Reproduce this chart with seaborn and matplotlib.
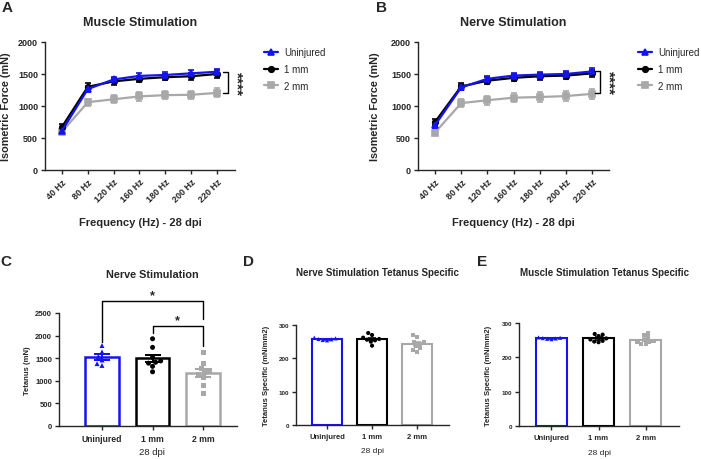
import pandas as pd
import numpy as np
import matplotlib
matplotlib.use("Agg")
import matplotlib.pyplot as plt
import seaborn as sns

sns.set_theme(style="ticks")
plt.rcParams['font.family'] = ['Liberation Sans', 'DejaVu Sans']

W, H = 701, 460

freqs = ['40 Hz', '80 Hz', '120 Hz', '160 Hz', '180 Hz', '200 Hz', '220 Hz']
groups = ['Uninjured', '1 mm', '2 mm']
colors = {'Uninjured': '#1414F0', '1 mm': '#000000', '2 mm': '#A8A8A8'}
markers = {'Uninjured': '^', '1 mm': 'o', '2 mm': 's'}

# panel A - muscle stimulation (mean, sem)
muscle_uninjured = [615, 1265, 1415, 1470, 1485, 1510, 1535]
muscle_uninjured_sem = [40, 45, 45, 45, 45, 45, 50]
muscle_1mm = [675, 1300, 1385, 1425, 1450, 1465, 1500]
muscle_1mm_sem = [40, 55, 50, 50, 50, 55, 60]
muscle_2mm = [600, 1060, 1105, 1150, 1170, 1175, 1205]
muscle_2mm_sem = [35, 55, 65, 65, 65, 65, 70]

# panel B - nerve stimulation
nerve_uninjured = [700, 1290, 1425, 1475, 1490, 1500, 1540]
nerve_uninjured_sem = [45, 45, 45, 45, 45, 50, 50]
nerve_1mm = [750, 1305, 1395, 1440, 1465, 1475, 1510]
nerve_1mm_sem = [45, 55, 55, 55, 55, 55, 55]
nerve_2mm = [585, 1045, 1090, 1130, 1140, 1155, 1190]
nerve_2mm_sem = [40, 60, 70, 75, 75, 75, 75]

# panel C - tetanus (mN)
tet_uninjured = [1780, 1640, 1540, 1460, 1380, 1340]
tet_1mm = [1930, 1740, 1520, 1440, 1410, 1390, 1320, 1200]
tet_2mm = [1630, 1390, 1275, 1225, 1185, 1130, 1080, 890, 710]

# panel D - nerve tetanus specific
nts_uninjured = [262, 258, 260, 255, 254, 257]
nts_1mm = [276, 270, 262, 258, 256, 254, 250, 238]
nts_2mm = [270, 265, 250, 248, 244, 238, 230, 225, 220]

# panel E - muscle tetanus specific
mts_uninjured = [258, 256, 255, 254, 253, 257]
mts_1mm = [268, 266, 262, 255, 252, 248, 246, 244]
mts_2mm = [272, 264, 258, 250, 248, 246, 244, 240, 238]


def box(l, r, t, b):
    return [l / W, 1 - b / H, (r - l) / W, (b - t) / H]


def ftext(x, y, s, **kw):
    fig.text(x / W, 1 - y / H, s, ha='center', va='center', **kw)


def bold_ticks(ax):
    for lab in ax.get_xticklabels() + ax.get_yticklabels():
        lab.set_fontweight('bold')


def line_panel(ax, means, sems, xlim, leg_x):
    df = pd.DataFrame({
        'freq': freqs * 3,
        'force': means['Uninjured'] + means['1 mm'] + means['2 mm'],
        'group': [g for g in groups for _ in freqs],
    })
    order = groups[::-1]
    for g in order:
        ax.errorbar(range(len(freqs)), means[g], yerr=sems[g], fmt='none',
                    ecolor=colors[g], elinewidth=1.2, capsize=2.2, capthick=1.2, zorder=2)
    sns.pointplot(data=df, x='freq', y='force', hue='group', hue_order=order,
                  palette=colors, markers=[markers[g] for g in order],
                  errorbar=None, markersize=4, linewidth=1.6, ax=ax)
    handles, labels = ax.get_legend_handles_labels()
    ax.legend(handles[::-1], labels[::-1], frameon=False, loc='upper left',
              bbox_to_anchor=(leg_x, 0.96), borderpad=0, borderaxespad=0,
              fontsize=7, handlelength=1.5, handletextpad=0.6, labelspacing=0.7)
    ax.set_xlim(*xlim)
    ax.set_ylim(0, 2000)
    ax.set_yticks([0, 500, 1000, 1500, 2000])
    ax.set_xticks(range(len(freqs)))
    ax.set_xticklabels(freqs, rotation=45, ha='right', rotation_mode='anchor')
    ax.tick_params(labelsize=6.5, length=3, width=1, pad=2)
    ax.set_xlabel('Frequency (Hz) - 28 dpi', fontsize=8, fontweight='bold')
    ax.set_ylabel('Isometric Force (mN)', fontsize=7.8, fontweight='bold')
    ax.xaxis.set_label_coords(0.5, -0.37)
    bold_ticks(ax)
    sns.despine(ax=ax)
    for sp in ax.spines.values():
        sp.set_linewidth(1)


def bar_panel(ax, vals, ylim, yticks, ylabel, msize, lw, cap, yfs, xfs, labfs):
    df = pd.DataFrame({
        'group': [g for g in groups for _ in vals[g]],
        'v': vals['Uninjured'] + vals['1 mm'] + vals['2 mm'],
    })
    sns.barplot(data=df, x='group', y='v', hue='group', order=groups, hue_order=groups,
                palette=colors, fill=False, errorbar=None, width=0.67,
                linewidth=lw, legend=False, ax=ax)
    for g in groups:
        sub = df[df['group'] == g]
        sns.swarmplot(data=sub, x='group', y='v', hue='group', order=groups,
                      hue_order=groups, palette=colors, marker=markers[g],
                      size=msize, legend=False, zorder=3, ax=ax)
    for i, g in enumerate(groups):
        v = np.array(vals[g], dtype=float)
        m = v.mean()
        se = v.std(ddof=1) / np.sqrt(len(v))
        ax.errorbar([i], [m], yerr=[se], fmt='none', ecolor=colors[g],
                    elinewidth=lw * 0.8, capsize=cap, capthick=lw * 0.8, zorder=4)
    ax.set_ylim(*ylim)
    ax.set_yticks(yticks)
    ax.tick_params(axis='y', labelsize=yfs, length=3, width=1, pad=2)
    ax.tick_params(axis='x', labelsize=xfs, length=3, width=1, pad=3)
    ax.set_xlabel('28 dpi', fontsize=xfs + 0.5)
    ax.set_ylabel(ylabel, fontsize=labfs, fontweight='bold')
    bold_ticks(ax)
    sns.despine(ax=ax)
    for sp in ax.spines.values():
        sp.set_linewidth(1)


fig = plt.figure(figsize=(W / 100, H / 100), dpi=100)

# A
axA = fig.add_axes(box(45, 235, 43, 171))
line_panel(axA,
           {'Uninjured': muscle_uninjured, '1 mm': muscle_1mm, '2 mm': muscle_2mm},
           {'Uninjured': muscle_uninjured_sem, '1 mm': muscle_1mm_sem, '2 mm': muscle_2mm_sem},
           (-0.66, 6.7), 1.15)
axA.yaxis.set_label_coords(-0.18, 0.5)
axA.plot([6.24, 6.43, 6.43, 6.24], [1530, 1530, 1205, 1205], color='black', lw=1, clip_on=False)
axA.text(6.74, 1365, '****', rotation=270, ha='center', va='center',
         fontsize=11, fontweight='bold', clip_on=False)
ftext(140, 23, 'Muscle Stimulation', fontsize=9, fontweight='bold')
ftext(7, 8, 'A', fontsize=11, fontweight='bold')

# B
axB = fig.add_axes(box(418, 609, 43, 171))
line_panel(axB,
           {'Uninjured': nerve_uninjured, '1 mm': nerve_1mm, '2 mm': nerve_2mm},
           {'Uninjured': nerve_uninjured_sem, '1 mm': nerve_1mm_sem, '2 mm': nerve_2mm_sem},
           (-0.65, 6.65), 1.15)
axB.yaxis.set_label_coords(-0.2, 0.5)
axB.plot([6.1, 6.3, 6.3, 6.1], [1545, 1545, 1200, 1200], color='black', lw=1, clip_on=False)
axB.text(6.62, 1370, '****', rotation=270, ha='center', va='center',
         fontsize=11, fontweight='bold', clip_on=False)
ftext(513, 23, 'Nerve Stimulation', fontsize=9, fontweight='bold')
ftext(382, 8, 'B', fontsize=11, fontweight='bold')

# C
axC = fig.add_axes(box(59, 237, 314, 427))
bar_panel(axC, {'Uninjured': tet_uninjured, '1 mm': tet_1mm, '2 mm': tet_2mm},
          (0, 2500), [0, 500, 1000, 1500, 2000, 2500], 'Tetanus (mN)',
          3.6, 1.8, 5.5, 5.5, 6.2, 5.5)
axC.set_xlim(-0.85, 2.67)
axC.yaxis.set_label_coords(-0.16, 0.5)
axC.set_xlabel('28 dpi', fontsize=6.8)
axC.xaxis.set_label_coords(0.52, -0.185)
axC.plot([0, 0, 2, 2], [1860, 2765, 2765, 2360], color='black', lw=1, clip_on=False)
axC.plot([1, 1, 2, 2], [2060, 2210, 2210, 1780], color='black', lw=1, clip_on=False)
axC.text(1, 2900, '*', ha='center', va='center', fontsize=9, fontweight='bold', clip_on=False)
axC.text(1.5, 2350, '*', ha='center', va='center', fontsize=9, fontweight='bold', clip_on=False)
ftext(152, 275, 'Nerve Stimulation', fontsize=7.8, fontweight='bold')
ftext(6, 262, 'C', fontsize=11, fontweight='bold')

# D
axD = fig.add_axes(box(296, 449, 326, 426))
bar_panel(axD, {'Uninjured': nts_uninjured, '1 mm': nts_1mm, '2 mm': nts_2mm},
          (0, 300), [0, 100, 200, 300], 'Tetanus Specific (mN/mm2)',
          3.0, 1.5, 3.2, 4.5, 5.5, 5.5)
axD.set_xlim(-0.69, 2.71)
axD.yaxis.set_label_coords(-0.17, 0.5)
axD.xaxis.set_label_coords(0.5, -0.22)
ftext(377, 273, 'Nerve Stimulation Tetanus Specific', fontsize=7, fontweight='bold')
ftext(248, 262, 'D', fontsize=11, fontweight='bold')

# E
axE = fig.add_axes(box(519, 679, 324, 427))
bar_panel(axE, {'Uninjured': mts_uninjured, '1 mm': mts_1mm, '2 mm': mts_2mm},
          (0, 300), [0, 100, 200, 300], 'Tetanus Specific (mN/mm2)',
          3.0, 1.5, 3.2, 4.5, 5.5, 5.5)
axE.set_xlim(-0.69, 2.71)
axE.yaxis.set_label_coords(-0.17, 0.5)
axE.xaxis.set_label_coords(0.5, -0.22)
ftext(604, 273, 'Muscle Stimulation Tetanus Specific', fontsize=7, fontweight='bold')
ftext(482, 262, 'E', fontsize=11, fontweight='bold')

fig.savefig('out.png', dpi=100, facecolor='white')
